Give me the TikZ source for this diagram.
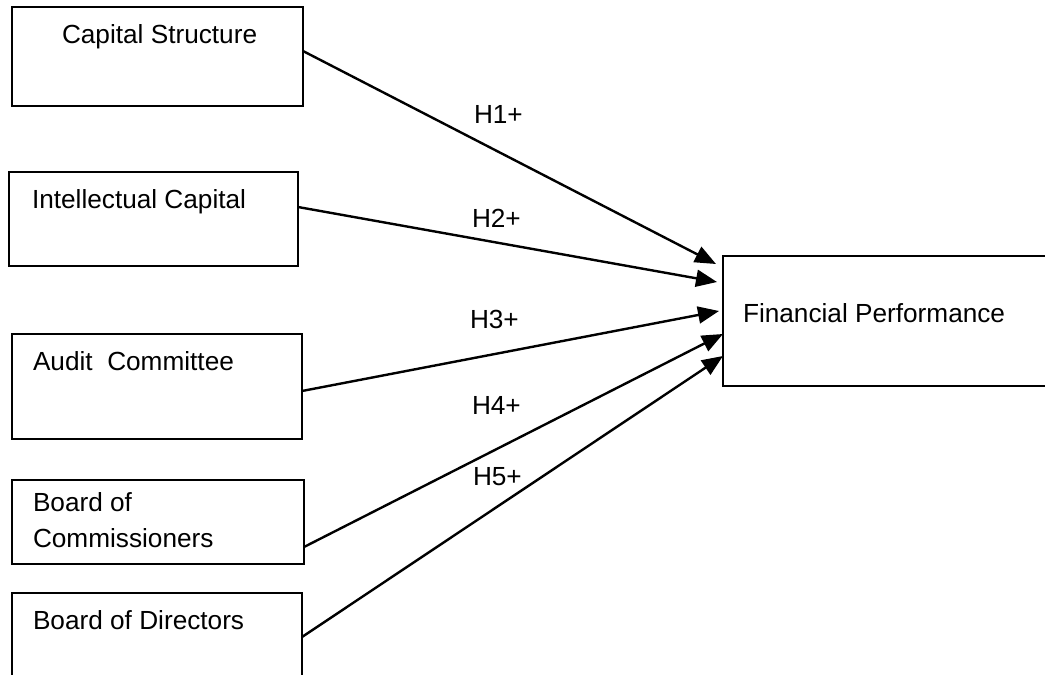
\documentclass[tikz,border=0pt]{standalone}
\usepackage{fontspec}
\setmainfont{Liberation Sans}
\usetikzlibrary{arrows.meta}
\begin{document}
\begin{tikzpicture}[x=1pt,y=-1pt,
  box/.style={draw=black,line width=2.2pt,inner sep=0pt,outer sep=0pt},
  txt/.style={inner sep=0pt,outer sep=0pt,anchor=base west,font=\fontsize{26.2}{36}\selectfont},
  conn/.style={line width=2.4pt,-{Triangle[length=21pt,width=17pt]}}]
\useasboundingbox (0,0) rectangle (1045,675);
% boxes (positioned by corners)
\node[box,minimum width=291pt,minimum height=99pt] (cs) at (157.5,56.5) {};
\node[box,minimum width=289pt,minimum height=94pt] (ic) at (153.5,219) {};
\node[box,minimum width=290pt,minimum height=105pt] (ac) at (157,386.5) {};
\node[box,minimum width=292pt,minimum height=84pt] (bc) at (158,522) {};
\node[box,minimum width=290pt,minimum height=97pt] (bd) at (157,641.5) {};
\node[box,minimum width=337pt,minimum height=130pt] (fp) at (891.5,321) {};
% texts
\node[txt] (tcs) at (62,43) {Capital Structure};
\node[txt] (tic) at (32,208) {Intellectual Capital};
\node[txt] (tac) at (33,370) {Audit\ \ Committee};
\node[txt] (tbc1) at (33,511) {Board of};
\node[txt] (tbc2) at (33,547) {Commissioners};
\node[txt] (tbd) at (33,629) {Board of Directors};
\node[txt] (tfp) at (743,322) {Financial Performance};
% hypothesis labels
\node[txt] (h1) at (474,123) {H1+};
\node[txt] (h2) at (472,227) {H2+};
\node[txt] (h3) at (470,328) {H3+};
\node[txt] (h4) at (472,414) {H4+};
\node[txt] (h5) at (473,485) {H5+};
% connectors
\draw[conn] ([yshift=5.5pt]cs.east) -- ([xshift=-7pt,yshift=57pt]fp.west);
\draw[conn] ([yshift=12pt]ic.east) -- ([xshift=-6pt,yshift=39pt]fp.west);
\draw[conn] ([yshift=-4.5pt]ac.east) -- ([xshift=-4pt,yshift=10pt]fp.west);
\draw[conn] ([yshift=-25pt]bc.east) -- ([xshift=0pt,yshift=-13pt]fp.west);
\draw[conn] ([yshift=4.5pt]bd.east) -- ([xshift=0pt,yshift=-35pt]fp.west);
\end{tikzpicture}
\end{document}
